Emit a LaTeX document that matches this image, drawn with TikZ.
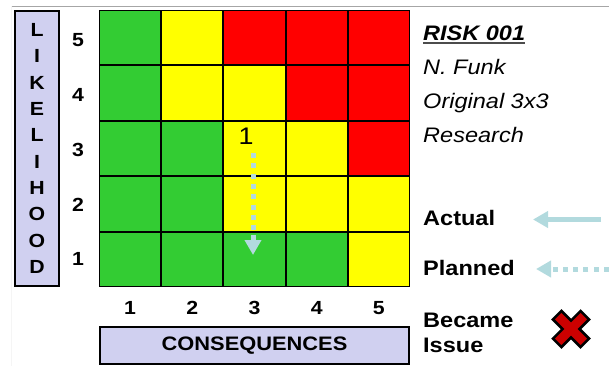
\documentclass[tikz,border=0pt]{standalone}
\usepackage{fontspec}
\setmainfont{Liberation Sans}[FakeStretch=1.12]
\usepackage{xcolor}
\usepackage{tikz}
\usetikzlibrary{positioning,arrows.meta}
\definecolor{riskgreen}{RGB}{51,204,51}
\definecolor{riskyellow}{RGB}{255,255,0}
\definecolor{riskred}{RGB}{255,0,0}
\definecolor{axisblue}{RGB}{208,208,240}
\definecolor{trendblue}{RGB}{178,218,222}
\definecolor{issuered}{RGB}{204,0,0}
\tikzset{
	cell/.style = {
		draw, line width=1bp, inner sep=0pt, minimum width=61.2bp, minimum height=54.4bp
	}
}
\tikzset{
	low/.style = {cell, fill=riskgreen},
	medium/.style = {cell, fill=riskyellow},
	high/.style = {cell, fill=riskred}
}
\tikzset{
	axis/.style = {
		draw, line width=2bp, fill=axisblue, inner sep=0pt, align=center
	}
}
\tikzset{
	rating/.style = {
		inner sep=0pt, font=\fontsize{19bp}{23bp}\selectfont\bfseries
	}
}
\tikzset{
	note/.style = {
		anchor=base west, inner sep=0pt, font=\fontsize{21bp}{25bp}\selectfont\itshape
	},
	keyword/.style = {
		note, font=\fontsize{21bp}{25bp}\selectfont\bfseries
	}
}
\tikzset{
	actual/.style = {
		draw=trendblue, line width=5bp, -{Triangle[width=16bp, length=15bp]}
	},
	planned/.style = {
		actual, dash pattern=on 5bp off 5.3bp
	}
}

\begin{document}
\begin{tikzpicture}[x=1bp, y=-1bp, node distance=0pt]
	\useasboundingbox (0,0) rectangle (609,366);
	\draw[gray!70, line width=1bp] (11,6) -- (609,6);
	\draw[gray!8, line width=1bp] (11,6) -- (11,366);
	\node[low, anchor=north west](L5C1) at (99,10){};
	\node[medium, right=of L5C1](L5C2){};
	\node[high, right=of L5C2](L5C3){};
	\node[high, right=of L5C3](L5C4){};
	\node[high, right=of L5C4](L5C5){};
	\node[low, below=of L5C1](L4C1){};
	\node[medium, right=of L4C1](L4C2){};
	\node[medium, right=of L4C2](L4C3){};
	\node[high, right=of L4C3](L4C4){};
	\node[high, right=of L4C4](L4C5){};
	\node[low, below=of L4C1](L3C1){};
	\node[low, right=of L3C1](L3C2){};
	\node[medium, right=of L3C2](L3C3){};
	\node[medium, right=of L3C3](L3C4){};
	\node[high, right=of L3C4](L3C5){};
	\node[low, below=of L3C1](L2C1){};
	\node[low, right=of L2C1](L2C2){};
	\node[medium, right=of L2C2](L2C3){};
	\node[medium, right=of L2C3](L2C4){};
	\node[medium, right=of L2C4](L2C5){};
	\node[low, below=of L2C1](L1C1){};
	\node[low, right=of L1C1](L1C2){};
	\node[low, right=of L1C2](L1C3){};
	\node[low, right=of L1C3](L1C4){};
	\node[medium, right=of L1C4](L1C5){};
	\node[rating](Row5) at ([xshift=-21bp, yshift=-2bp]L5C1.west){5};
	\node[rating](Row4) at ([xshift=-21bp, yshift=-2bp]L4C1.west){4};
	\node[rating](Row3) at ([xshift=-21bp, yshift=-1bp]L3C1.west){3};
	\node[rating](Row2) at ([xshift=-21bp, yshift=-1bp]L2C1.west){2};
	\node[rating](Row1) at ([xshift=-21bp]L1C1.west){1};
	\node[rating](Col1) at ([yshift=-21bp]L1C1.south){1};
	\node[rating](Col2) at ([yshift=-21bp]L1C2.south){2};
	\node[rating](Col3) at ([yshift=-21bp]L1C3.south){3};
	\node[rating](Col4) at ([yshift=-21bp]L1C4.south){4};
	\node[rating](Col5) at ([yshift=-21bp]L1C5.south){5};
	\node[axis, minimum width=44bp, minimum height=275bp, anchor=north west,
		font=\fontsize{19bp}{26.3bp}\selectfont\bfseries](Likelihood) at (14,10)
		{L\\I\\K\\E\\L\\I\\H\\O\\O\\D};
	\node[axis, minimum width=309bp, minimum height=37bp, anchor=north west,
		font=\fontsize{19.5bp}{23bp}\selectfont\bfseries](Consequences) at (99,326)
		{CONSEQUENCES};
	\node[inner sep=0pt, font=\fontsize{24bp}{28bp}\selectfont](RiskMark) at (246,136.5){1};
	\coordinate (PlanFrom) at (253,153);
	\coordinate (PlanTo) at (253,255);
	\draw[planned] (PlanFrom) -- (PlanTo);
	\node[note, font=\fontsize{21bp}{25bp}\selectfont\bfseries\itshape](RiskTitle) at (423,40){RISK 001};
	\draw[line width=1.6bp, black!70] ([yshift=-2.7bp]RiskTitle.base west) -- ([yshift=-2.7bp]RiskTitle.base east);
	\node[note](Owner) at (423,74){N. Funk};
	\node[note](Origin) at (423,108){Original 3x3};
	\node[note](Research) at (423,142){Research};
	\node[keyword](ActualLabel) at (423,225){Actual};
	\node[keyword](PlannedLabel) at (423,275){Planned};
	\node[keyword, anchor=north west, align=left](IssueLabel) at (423,313){Became\\Issue};
	\coordinate (ActualFrom) at (601,219.5);
	\coordinate (ActualTo) at (533,219.5);
	\draw[actual] (ActualFrom) -- (ActualTo);
	\coordinate (PlannedFrom) at (609,269);
	\coordinate (PlannedTo) at (536,269);
	\draw[planned] (PlannedFrom) -- (PlannedTo);
	\draw[line width=2.5bp, fill=issuered, line join=miter, shift={(571,329)}, rotate=45]
		(-6,-19.5) -- (6,-19.5) -- (6,-6) -- (19.5,-6) -- (19.5,6) -- (6,6) -- (6,19.5)
		-- (-6,19.5) -- (-6,6) -- (-19.5,6) -- (-19.5,-6) -- (-6,-6) -- cycle;
\end{tikzpicture}
\end{document}
